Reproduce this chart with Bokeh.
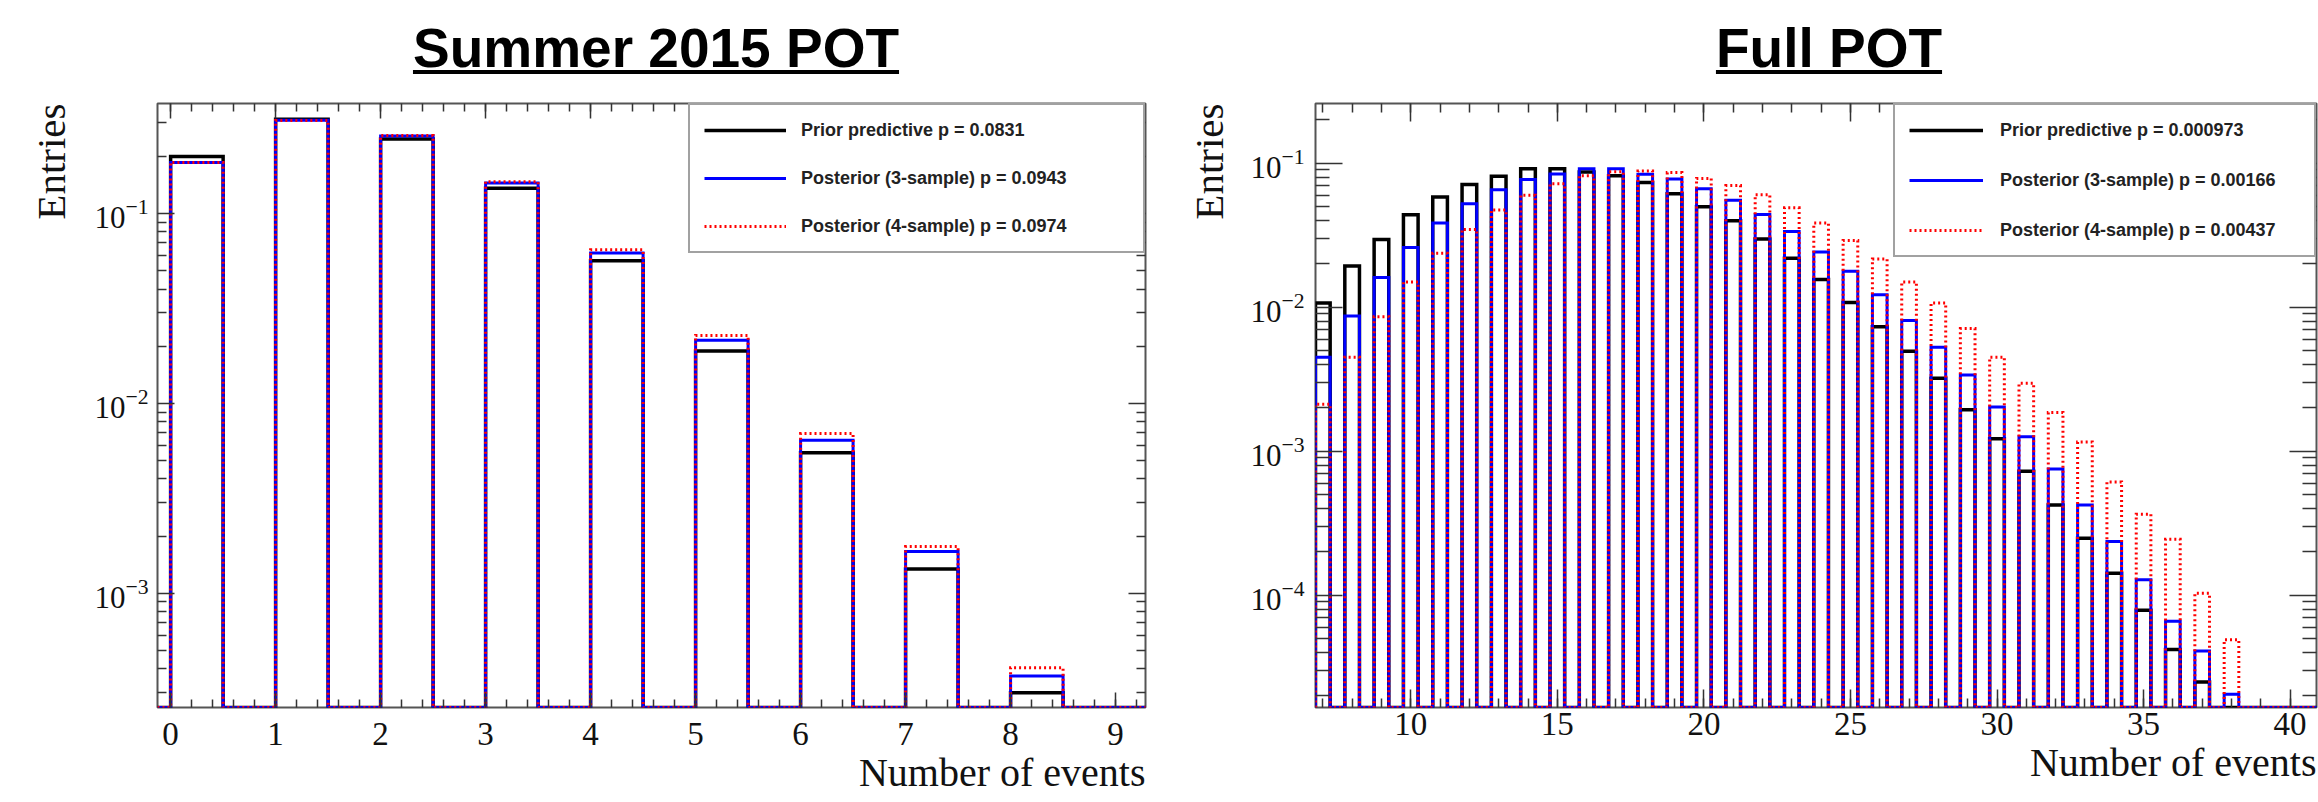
import math
from bokeh.plotting import figure
from bokeh.models import (Range1d, LinearAxis, LogAxis, SingleIntervalTicker, FixedTicker,
                          Legend, LegendItem, Div, Title)
from bokeh.layouts import row, column
from bokeh.embed import file_html
from bokeh.resources import INLINE

# ---------------- data ----------------
summer_events = [0, 1, 2, 3, 4, 5, 6, 7, 8, 9]
summer_prior = [0.200, 0.314, 0.247, 0.136, 0.0565, 0.0189, 0.00550, 0.00134, 0.000299, 0.0]
summer_post3 = [0.186, 0.310, 0.256, 0.145, 0.0619, 0.0215, 0.00640, 0.00166, 0.000366, 0.0]
summer_post4 = [0.186, 0.309, 0.258, 0.147, 0.0644, 0.0228, 0.00693, 0.00176, 0.000405, 0.0]
summer_labels = ["Prior predictive p = 0.0831",
                 "Posterior (3-sample) p = 0.0943",
                 "Posterior (4-sample) p = 0.0974"]
summer_title = "Summer 2015 POT"

full_events = list(range(7, 42))
full_prior = [0.0107, 0.0193, 0.0296, 0.0438, 0.0584, 0.0712, 0.0811, 0.0915, 0.0915, 0.0870,
              0.0820, 0.0736, 0.0614, 0.0498, 0.0398, 0.0298, 0.0219, 0.0156, 0.0108, 0.00733,
              0.00495, 0.00321, 0.00194, 0.00122, 0.000726, 0.000424, 0.000249, 0.000142,
              7.87e-5, 4.2e-5, 2.5e-5, 0.0, 0.0, 0.0, 0.0]
full_post3 = [0.00450, 0.00870, 0.0161, 0.0260, 0.0385, 0.0524, 0.0655, 0.0770, 0.0842, 0.0915,
              0.0915, 0.0839, 0.0776, 0.0664, 0.0553, 0.0441, 0.0336, 0.0242, 0.0178, 0.0122,
              0.00810, 0.00527, 0.00338, 0.00203, 0.00126, 0.000752, 0.000424, 0.000236,
              0.000128, 6.6e-5, 4.1e-5, 2.05e-5, 0.0, 0.0, 0.0]
full_post4 = [0.00212, 0.00450, 0.00860, 0.0150, 0.0237, 0.0347, 0.0474, 0.0600, 0.0720, 0.0820,
              0.0873, 0.0885, 0.0861, 0.0785, 0.0700, 0.0604, 0.0490, 0.0384, 0.0291, 0.0216,
              0.0150, 0.0107, 0.00711, 0.00450, 0.00297, 0.00186, 0.00116, 0.000611,
              0.000365, 0.000245, 0.000103, 4.9e-5, 0.0, 0.0, 0.0]
full_labels = ["Prior predictive p = 0.000973",
               "Posterior (3-sample) p = 0.00166",
               "Posterior (4-sample) p = 0.00437"]
full_title = "Full POT"

x_label = "Number of events"
y_label = "Entries"

# ---------------- styles ----------------
SERIES_STYLE = [
    dict(line_color="#000000", line_width=3.5, line_dash="solid"),
    dict(line_color="#0000ff", line_width=3, line_dash="solid"),
    dict(line_color="#ff0000", line_width=3, line_dash="2 3"),
]
SERIF = "Liberation Serif"
SANS = "Liberation Sans"
TITLE_H = 88


def step_xy(events, values, lo, hi, x_start, x_end, floor):
    xs, ys = [x_start], [floor]
    for n, v in zip(events, values):
        top = v if v > floor else floor
        xs += [n + lo, n + lo, n + hi, n + hi]
        ys += [floor, top, top, floor]
    xs.append(x_end)
    ys.append(floor)
    return xs, ys


def make_panel(events, series, labels, cfg):
    fx0, fy0 = cfg["origin"]
    fl, fr, ft, fb = cfg["frame"]
    xr, yr = cfg["xr"], cfg["yr"]
    p = figure(width=cfg["width"], height=cfg["height"],
               x_range=Range1d(*xr), y_range=Range1d(*yr), y_axis_type="log",
               output_backend="svg", toolbar_location=None,
               min_border_left=fl - fx0, min_border_right=fx0 + cfg["width"] - fr,
               min_border_top=ft - fy0, min_border_bottom=fy0 + cfg["height"] - fb)
    p.xgrid.visible = False
    p.ygrid.visible = False
    p.outline_line_color = "#555555"
    p.outline_line_width = 2
    p.background_fill_color = "white"
    p.border_fill_color = "white"

    # histograms
    rends = []
    for vals, st in zip(series, SERIES_STYLE):
        xs, ys = step_xy(events, vals, cfg["bin_lo"], cfg["bin_hi"], xr[0], xr[1], yr[0])
        r = p.line(xs, ys, line_join="miter", **st)
        rends.append(r)

    # axes
    bottom = p.below[0]
    left = p.left[0]
    xt = cfg["x_interval"]
    ymaj = cfg["y_major"]
    ymin = [m * t for t in [v / 10 for v in ymaj] + [ymaj[-1]] for m in range(2, 10)]
    bottom.ticker = SingleIntervalTicker(interval=xt, num_minor_ticks=cfg["x_minor"])
    left.ticker = FixedTicker(ticks=ymaj, minor_ticks=ymin)
    top = LinearAxis(ticker=SingleIntervalTicker(interval=xt, num_minor_ticks=cfg["x_minor"]))
    right = LogAxis(ticker=FixedTicker(ticks=ymaj, minor_ticks=ymin))
    p.add_layout(top, "above")
    p.add_layout(right, "right")
    for ax in [bottom, top]:
        ax.major_tick_in = cfg["x_tick"][0]
        ax.minor_tick_in = cfg["x_tick"][1]
    for ax in [left, right]:
        ax.major_tick_in = cfg["y_tick"][0]
        ax.minor_tick_in = cfg["y_tick"][1]
    for ax in [bottom, top, left, right]:
        ax.axis_line_color = None
        ax.major_tick_out = 0
        ax.minor_tick_out = 0
        ax.major_tick_line_color = "#333333"
        ax.minor_tick_line_color = "#333333"
        ax.major_tick_line_width = 1.5
        ax.minor_tick_line_width = 1.5
        ax.major_label_text_font = SERIF
        ax.major_label_text_color = "#111111"
    for ax in [top, right]:
        ax.major_label_text_font_size = "2px"
        ax.major_label_text_alpha = 0.0
        ax.major_label_standoff = 0
    bottom.major_label_text_font_size = "33px"
    bottom.major_label_standoff = cfg["x_standoff"]
    left.major_label_text_font_size = "31px"
    left.major_label_standoff = cfg["y_standoff"]

    # axis titles, placed at the far end of each axis
    p.add_layout(Title(text=x_label, align="right", text_font=SERIF, text_font_style="normal",
                       text_font_size="40px", text_color="#111111",
                       standoff=cfg["xlabel_standoff"]), "below")
    p.add_layout(Title(text=y_label, align="right", text_font=SERIF, text_font_style="normal",
                       text_font_size="41px", text_color="#111111",
                       standoff=cfg["ylabel_standoff"]), "left")

    # legend
    lg = cfg["legend"]
    legend = Legend(items=[LegendItem(label=lab, renderers=[r]) for lab, r in zip(labels, rends)],
                    location="top_right", margin=0, padding=14,
                    spacing=lg["spacing"], glyph_width=lg["glyph_width"], glyph_height=22,
                    label_height=22, label_width=lg["label_width"],
                    label_standoff=lg["standoff"],
                    label_text_font=SANS, label_text_font_style="bold",
                    label_text_font_size=lg["font"], label_text_color="#222222",
                    border_line_color="#444444", border_line_width=2,
                    background_fill_color="white", background_fill_alpha=1.0)
    p.add_layout(legend)
    return p


left_cfg = dict(
    origin=(0, TITLE_H), width=1165, height=802 - TITLE_H, frame=(157, 1145, 103, 707),
    xr=(-0.125, 9.285), yr=(2.5e-4, 0.38), bin_lo=0.0, bin_hi=0.5,
    x_interval=1, x_minor=5, x_tick=(15, 8), y_tick=(17, 9),
    y_major=[1e-3, 1e-2, 1e-1], x_standoff=15, y_standoff=9,
    xlabel_standoff=0, ylabel_standoff=36,
    legend=dict(spacing=26, glyph_width=82, label_width=328, standoff=15, font="18px"),
)
right_cfg = dict(
    origin=(1165, TITLE_H), width=1153, height=802 - TITLE_H, frame=(1315, 2316, 99, 717),
    xr=(6.75, 40.9), yr=(1.66e-5, 0.26), bin_lo=-0.25, bin_hi=0.25,
    x_interval=5, x_minor=5, x_tick=(18, 9), y_tick=(27, 14),
    y_major=[1e-4, 1e-3, 1e-2, 1e-1], x_standoff=5, y_standoff=11,
    xlabel_standoff=0, ylabel_standoff=31,
    legend=dict(spacing=28, glyph_width=74, label_width=300, standoff=17, font="18px"),
)

p1 = make_panel(summer_events, [summer_prior, summer_post3, summer_post4], summer_labels, left_cfg)
p2 = make_panel(full_events, [full_prior, full_post3, full_post4], full_labels, right_cfg)

# titles (underlined), centred at the reference positions
title_specs = [(summer_title, 656), (full_title, 1829)]
spans = "".join(
    '<span style="position:absolute;left:{l}px;top:21px;width:700px;text-align:center;'
    'text-decoration:underline;text-decoration-thickness:4px;text-underline-offset:3px;">'
    '{t}</span>'.format(l=c - 350, t=t) for t, c in title_specs)
title_html = ('<div style="position:relative;width:2318px;height:{h}px;'
              "font-family:'Liberation Sans',Arial,sans-serif;font-weight:bold;"
              'font-size:55px;line-height:55px;color:#000;">{s}</div>').format(h=TITLE_H, s=spans)
titles = Div(text=title_html, width=2318, height=TITLE_H, margin=0)

layout = column(titles, row(p1, p2, spacing=0), spacing=0)
open("out.html", "w").write(file_html(layout, INLINE))
